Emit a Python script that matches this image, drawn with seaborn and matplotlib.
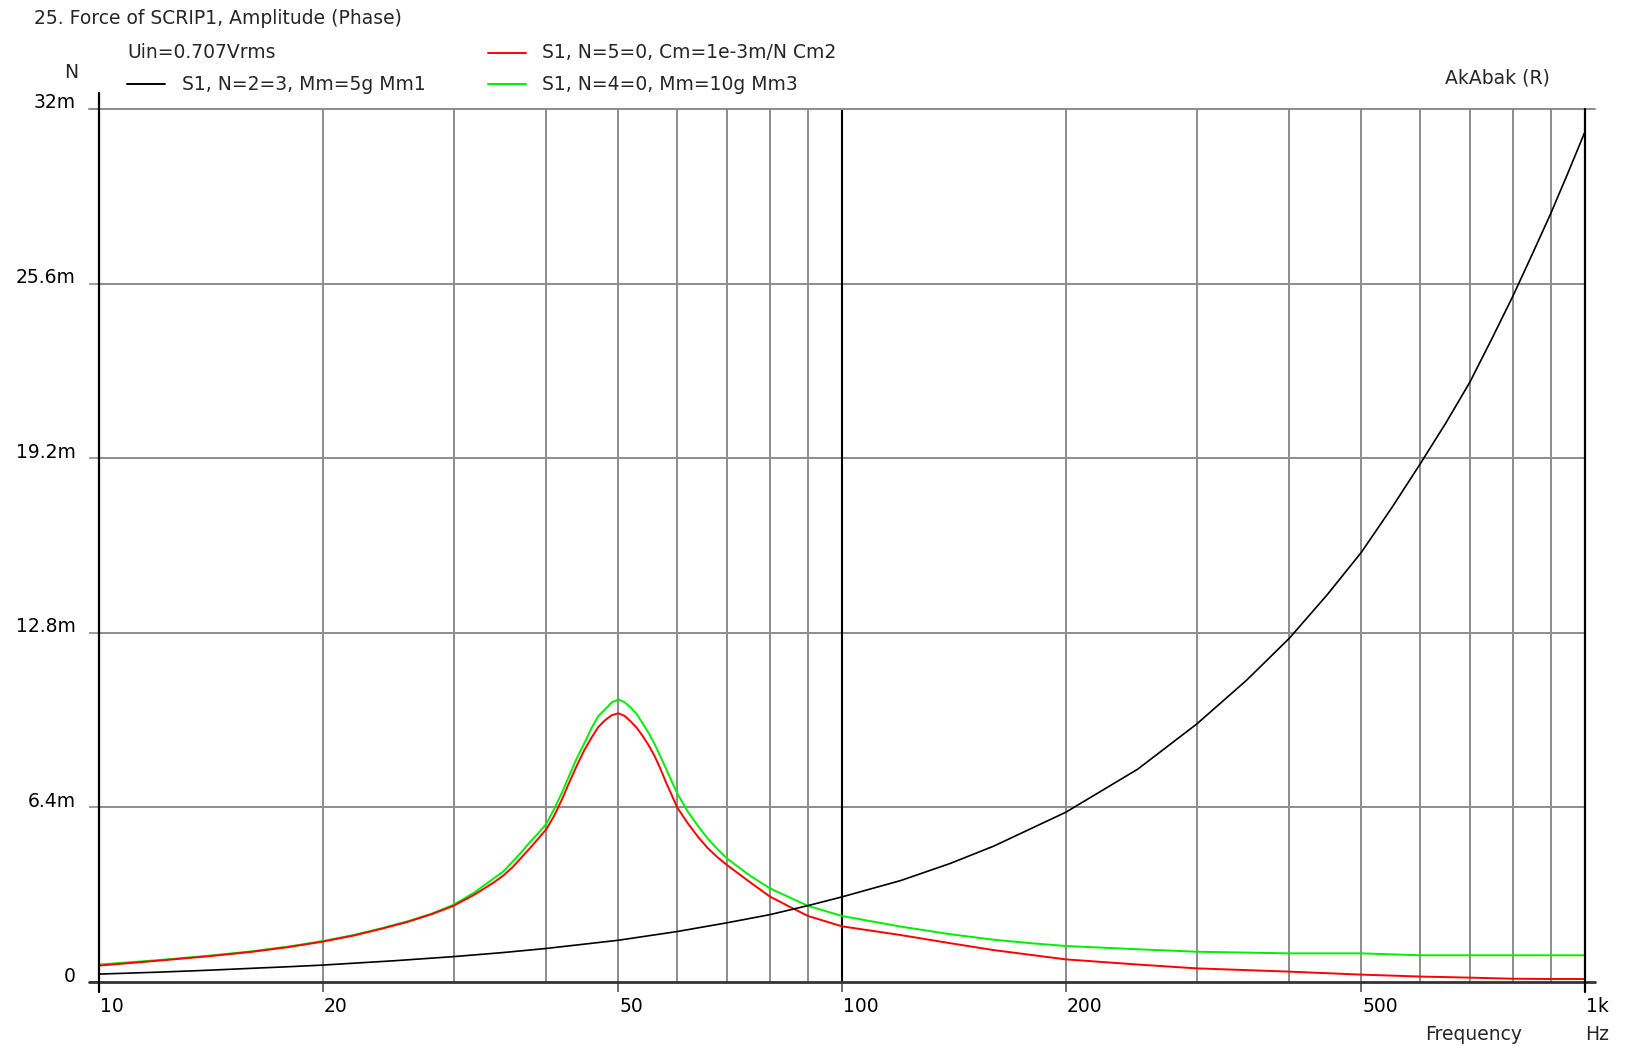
import matplotlib
matplotlib.use("Agg")
import matplotlib.pyplot as plt
import matplotlib.transforms as mtransforms
from matplotlib.lines import Line2D
from matplotlib.ticker import NullLocator
import seaborn as sns
import pandas as pd

# data (force in mN, freq in Hz)
freq = [10, 12, 14, 16, 18, 20, 22, 24, 26, 28, 30, 32, 34, 35, 36, 37, 38, 39, 40, 41,
        42, 43, 44, 45, 46, 47, 48, 49, 50, 51, 52, 53, 54, 55, 56, 57, 58, 59, 60, 62,
        64, 66, 68, 70, 75, 80, 85, 90, 100, 120, 140, 160, 180, 200, 250, 300, 400,
        500, 600, 700, 800, 900, 1000]
force_cm2 = [0.60, 0.78, 0.94, 1.10, 1.28, 1.48, 1.70, 1.95, 2.20, 2.48, 2.79, 3.20, 3.65,
             3.90, 4.20, 4.55, 4.90, 5.25, 5.60, 6.10, 6.70, 7.35, 7.95, 8.50, 8.95, 9.35,
             9.60, 9.78, 9.85, 9.75, 9.54, 9.30, 8.99, 8.65, 8.26, 7.80, 7.30, 6.85, 6.40,
             5.82, 5.32, 4.90, 4.57, 4.29, 3.68, 3.13, 2.76, 2.42, 2.04, 1.72, 1.42, 1.17,
             0.99, 0.83, 0.64, 0.50, 0.38, 0.27, 0.20, 0.16, 0.12, 0.11, 0.11]
force_mm3 = [0.64, 0.80, 0.96, 1.12, 1.30, 1.50, 1.72, 1.97, 2.22, 2.50, 2.83, 3.28, 3.80,
             4.05, 4.40, 4.75, 5.12, 5.45, 5.80, 6.35, 6.95, 7.60, 8.22, 8.75, 9.30, 9.75,
             10.00, 10.25, 10.36, 10.25, 10.05, 9.80, 9.45, 9.10, 8.70, 8.25, 7.80, 7.35,
             6.92, 6.25, 5.72, 5.25, 4.87, 4.53, 3.92, 3.43, 3.10, 2.79, 2.42, 2.03, 1.75,
             1.55, 1.42, 1.32, 1.20, 1.11, 1.05, 1.05, 0.98, 0.98, 0.98, 0.98, 0.98]
freq_mm1 = [10, 12, 14, 16, 18, 20, 25, 30, 35, 40, 50, 60, 70, 80, 90, 100, 120, 140, 160,
            200, 250, 300, 350, 400, 450, 500, 550, 600, 650, 700, 750, 800, 850, 900, 950, 1000]
force_mm1 = [0.29, 0.36, 0.43, 0.50, 0.56, 0.62, 0.78, 0.93, 1.08, 1.23, 1.53, 1.85, 2.17,
             2.47, 2.80, 3.12, 3.72, 4.35, 4.98, 6.22, 7.80, 9.45, 11.05, 12.60, 14.20,
             15.75, 17.40, 18.99, 20.50, 21.99, 23.60, 25.15, 26.70, 28.19, 29.70, 31.17]

x_major = [10, 20, 50, 100, 200, 500, 1000]
x_major_labels = ["10", "20", "50", "100", "200", "500", "1k"]
x_grid = [20, 30, 40, 50, 60, 70, 80, 90, 200, 300, 400, 500, 600, 700, 800, 900]
y_ticks = [0, 6.4, 12.8, 19.2, 25.6, 32]
y_labels = ["0", "6.4m", "12.8m", "19.2m", "25.6m", "32m"]

legend_entries = [("S1, N=2=3, Mm=5g Mm1", "black"),
                  ("S1, N=5=0, Cm=1e-3m/N Cm2", "#ff0000"),
                  ("S1, N=4=0, Mm=10g Mm3", "#00ee00")]

sns.set_theme(style="white")
plt.rcParams["font.family"] = ["DejaVu Sans"]
FS = 13.5

W, H = 1628, 1046
fig = plt.figure(figsize=(W / 100, H / 100), dpi=100)
ax = fig.add_axes([99 / W, 1 - 982 / H, (1585 - 99) / W, (982 - 109) / H])


def px(x, y):
    return x / W, 1 - y / H


df_cm2 = pd.DataFrame({"f": freq, "F": force_cm2})
df_mm3 = pd.DataFrame({"f": freq, "F": force_mm3})
df_mm1 = pd.DataFrame({"f": freq_mm1, "F": force_mm1})

sns.lineplot(data=df_mm3, x="f", y="F", color="#00ee00", lw=1.4, ax=ax, zorder=4)
sns.lineplot(data=df_cm2, x="f", y="F", color="#ff0000", lw=1.4, ax=ax, zorder=5)
sns.lineplot(data=df_mm1, x="f", y="F", color="black", lw=1.2, ax=ax, zorder=6)

ax.set_xscale("log")
ax.set_xlim(10, 1000)
ax.set_ylim(0, 32)
ax.set_xlabel("")
ax.set_ylabel("")

# grid
for f in x_grid:
    ax.axvline(f, color="#8c8c8c", lw=1.4, zorder=1)
ax.axvline(100, color="black", lw=1.5, zorder=2)
for y in y_ticks[1:-1]:
    ax.axhline(y, color="#8c8c8c", lw=1.4, zorder=1)

for s in ax.spines.values():
    s.set_visible(False)

# frame lines that poke out past the plot like the original
ax.add_line(Line2D([-0.007, 1.007], [1, 1], transform=ax.transAxes, color="#8c8c8c", lw=1.4, clip_on=False))
ax.add_line(Line2D([-0.007, 1.007], [0, 0], transform=ax.transAxes, color="#333333", lw=2.0, clip_on=False, zorder=7))
ax.add_line(Line2D([0, 0], [-0.011, 1.018], transform=ax.transAxes, color="black", lw=1.6, clip_on=False, zorder=7))
ax.add_line(Line2D([1, 1], [-0.011, 1.0], transform=ax.transAxes, color="black", lw=1.6, clip_on=False, zorder=7))

# ticks
ax.set_xticks(x_major)
ax.set_xticklabels(x_major_labels)
ax.xaxis.set_minor_locator(NullLocator())
ax.tick_params(axis="x", which="major", direction="out", length=7, width=1.2, color="#555555",
               pad=4, labelsize=FS, labelcolor="black", bottom=True)
for lab in ax.get_xticklabels():
    lab.set_ha("left")
    lab.set_transform(lab.get_transform() + mtransforms.ScaledTranslation(0.01, 0, fig.dpi_scale_trans))

ax.set_yticks(y_ticks)
ax.set_yticklabels(y_labels)
ax.tick_params(axis="y", direction="out", length=7, width=1.2, color="#8c8c8c",
               pad=10, labelsize=FS, labelcolor="black", left=True)
for lab in ax.get_yticklabels():
    lab.set_transform(lab.get_transform() + mtransforms.ScaledTranslation(0, 0.08, fig.dpi_scale_trans))

# texts
fig.text(*px(34, 18), "25. Force of SCRIP1, Amplitude (Phase)", fontsize=FS, va="center", ha="left")
fig.text(*px(127, 53), "Uin=0.707Vrms", fontsize=FS, va="center", ha="left")
fig.text(*px(71, 73), "N", fontsize=FS, va="center", ha="center")
fig.text(*px(1550, 78), "AkAbak (R)", fontsize=FS, va="center", ha="right")
fig.text(*px(1522, 1034), "Frequency", fontsize=FS, va="center", ha="right")
fig.text(*px(1585, 1034), "Hz", fontsize=FS, va="center", ha="left")

# legend drawn by hand, two columns
leg_pos = [(127, 182, 84), (488, 542, 53), (488, 542, 84)]
for (label, color), (x0, xt, y) in zip(legend_entries, leg_pos):
    x_a, y_a = px(x0, y)
    x_b, _ = px(x0 + 38, y)
    fig.add_artist(Line2D([x_a, x_b], [y_a, y_a], color=color, lw=1.4, transform=fig.transFigure))
    fig.text(*px(xt, y), label, fontsize=FS, va="center", ha="left")

fig.savefig("out.png", dpi=100, facecolor="white")
